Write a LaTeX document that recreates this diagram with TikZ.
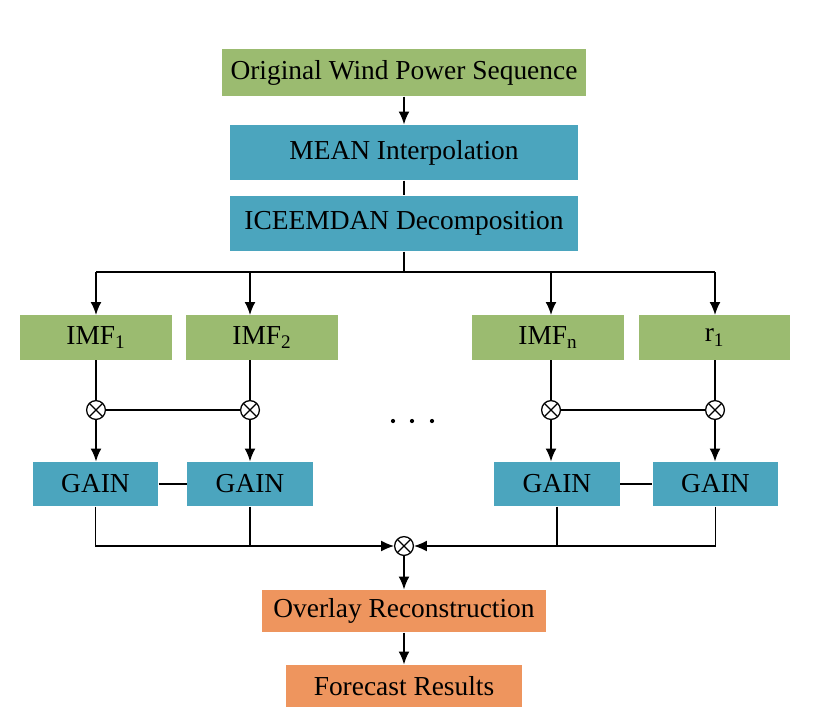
\documentclass[tikz,border=0pt]{standalone}
\usepackage{fontspec}
\setmainfont{Liberation Serif}
\usetikzlibrary{arrows.meta}
\definecolor{boxgreen}{RGB}{155,187,112}
\definecolor{boxblue}{RGB}{75,165,190}
\definecolor{boxorange}{RGB}{238,149,94}
\tikzset{
  greenbox/.style={fill=boxgreen,minimum width=3.775cm,minimum height=1.1cm},
  bluebox/.style={fill=boxblue,minimum width=8.7cm,minimum height=1.375cm},
  gainbox/.style={fill=boxblue,minimum width=3.125cm,minimum height=1.1cm},
  orangebox/.style={fill=boxorange,minimum height=1.05cm},
  mult/.style={circle,draw,fill=white,minimum size=0.47cm,
    path picture={\draw (path picture bounding box.north west) -- (path picture bounding box.south east)
      (path picture bounding box.north east) -- (path picture bounding box.south west);}}
}
\begin{document}
\begin{tikzpicture}[x=0.025cm,y=-0.025cm,line width=0.9pt,>={Latex[length=3.2mm,width=2.7mm]},
  every node/.style={inner sep=0pt,font=\fontsize{19.5}{21}\selectfont}]
\useasboundingbox (0,0) rectangle (814,723);
% top of the chain
\node[greenbox,minimum width=9.1cm,minimum height=1.175cm] (orig) at (404,72.5) {Original Wind Power Sequence};
\node[bluebox] (mean) at (404,152.5) {MEAN Interpolation};
\node[bluebox] (icee) at (404,223.5) {ICEEMDAN Decomposition};
\draw[->] (orig) -- (mean);
\draw (mean) -- (icee);
% components
\foreach \i/\x/\v in {1/96/IMF\textsubscript{1}, 2/262/IMF\textsubscript{2}, n/548/IMF\textsubscript{n}, r/714.5/r\textsubscript{1}}
  \node[greenbox] (imf\i) at (\x,337.5) {\v};
\foreach \i/\x in {1/96, 2/250, n/551, r/715}{
  \coordinate (b\i) at (\x,272);
  \node[mult] (m\i) at (\x,410) {};
}
\foreach \i/\x in {1/95.5, 2/250, n/557, r/715.5}
  \node[gainbox] (g\i) at (\x,484) {GAIN};
\coordinate (split) at (404,272);
\draw (icee) -- (split);
\draw (b1) -- (br);
\foreach \i in {1,2,n,r}{
  \draw[->] (b\i) -- (b\i |- imf\i.north);
  \draw (m\i |- imf\i.south) -- (m\i);
  \draw[->] (m\i) -- (m\i |- g\i.north);
}
\draw (m1) -- (m2);
\draw (mn) -- (mr);
\draw (g1) -- (g2);
\draw (gn) -- (gr);
\foreach \x in {393,412,432}
  \fill (\x,421) circle (1.5pt);
% summation and output
\node[mult] (sum) at (404,546) {};
\draw[->] (g1.south) |- (sum.west);
\draw (g2.south) -- (g2.south |- sum);
\draw[->] (gr.south) |- (sum.east);
\draw (gn.south) -- (gn.south |- sum);
\node[orangebox,minimum width=7.1cm] (over) at (404,611) {Overlay Reconstruction};
\node[orangebox,minimum width=5.9cm] (fore) at (404,686) {Forecast Results};
\draw[->] (sum) -- (over);
\draw[->] (over) -- (fore);
\end{tikzpicture}
\end{document}
